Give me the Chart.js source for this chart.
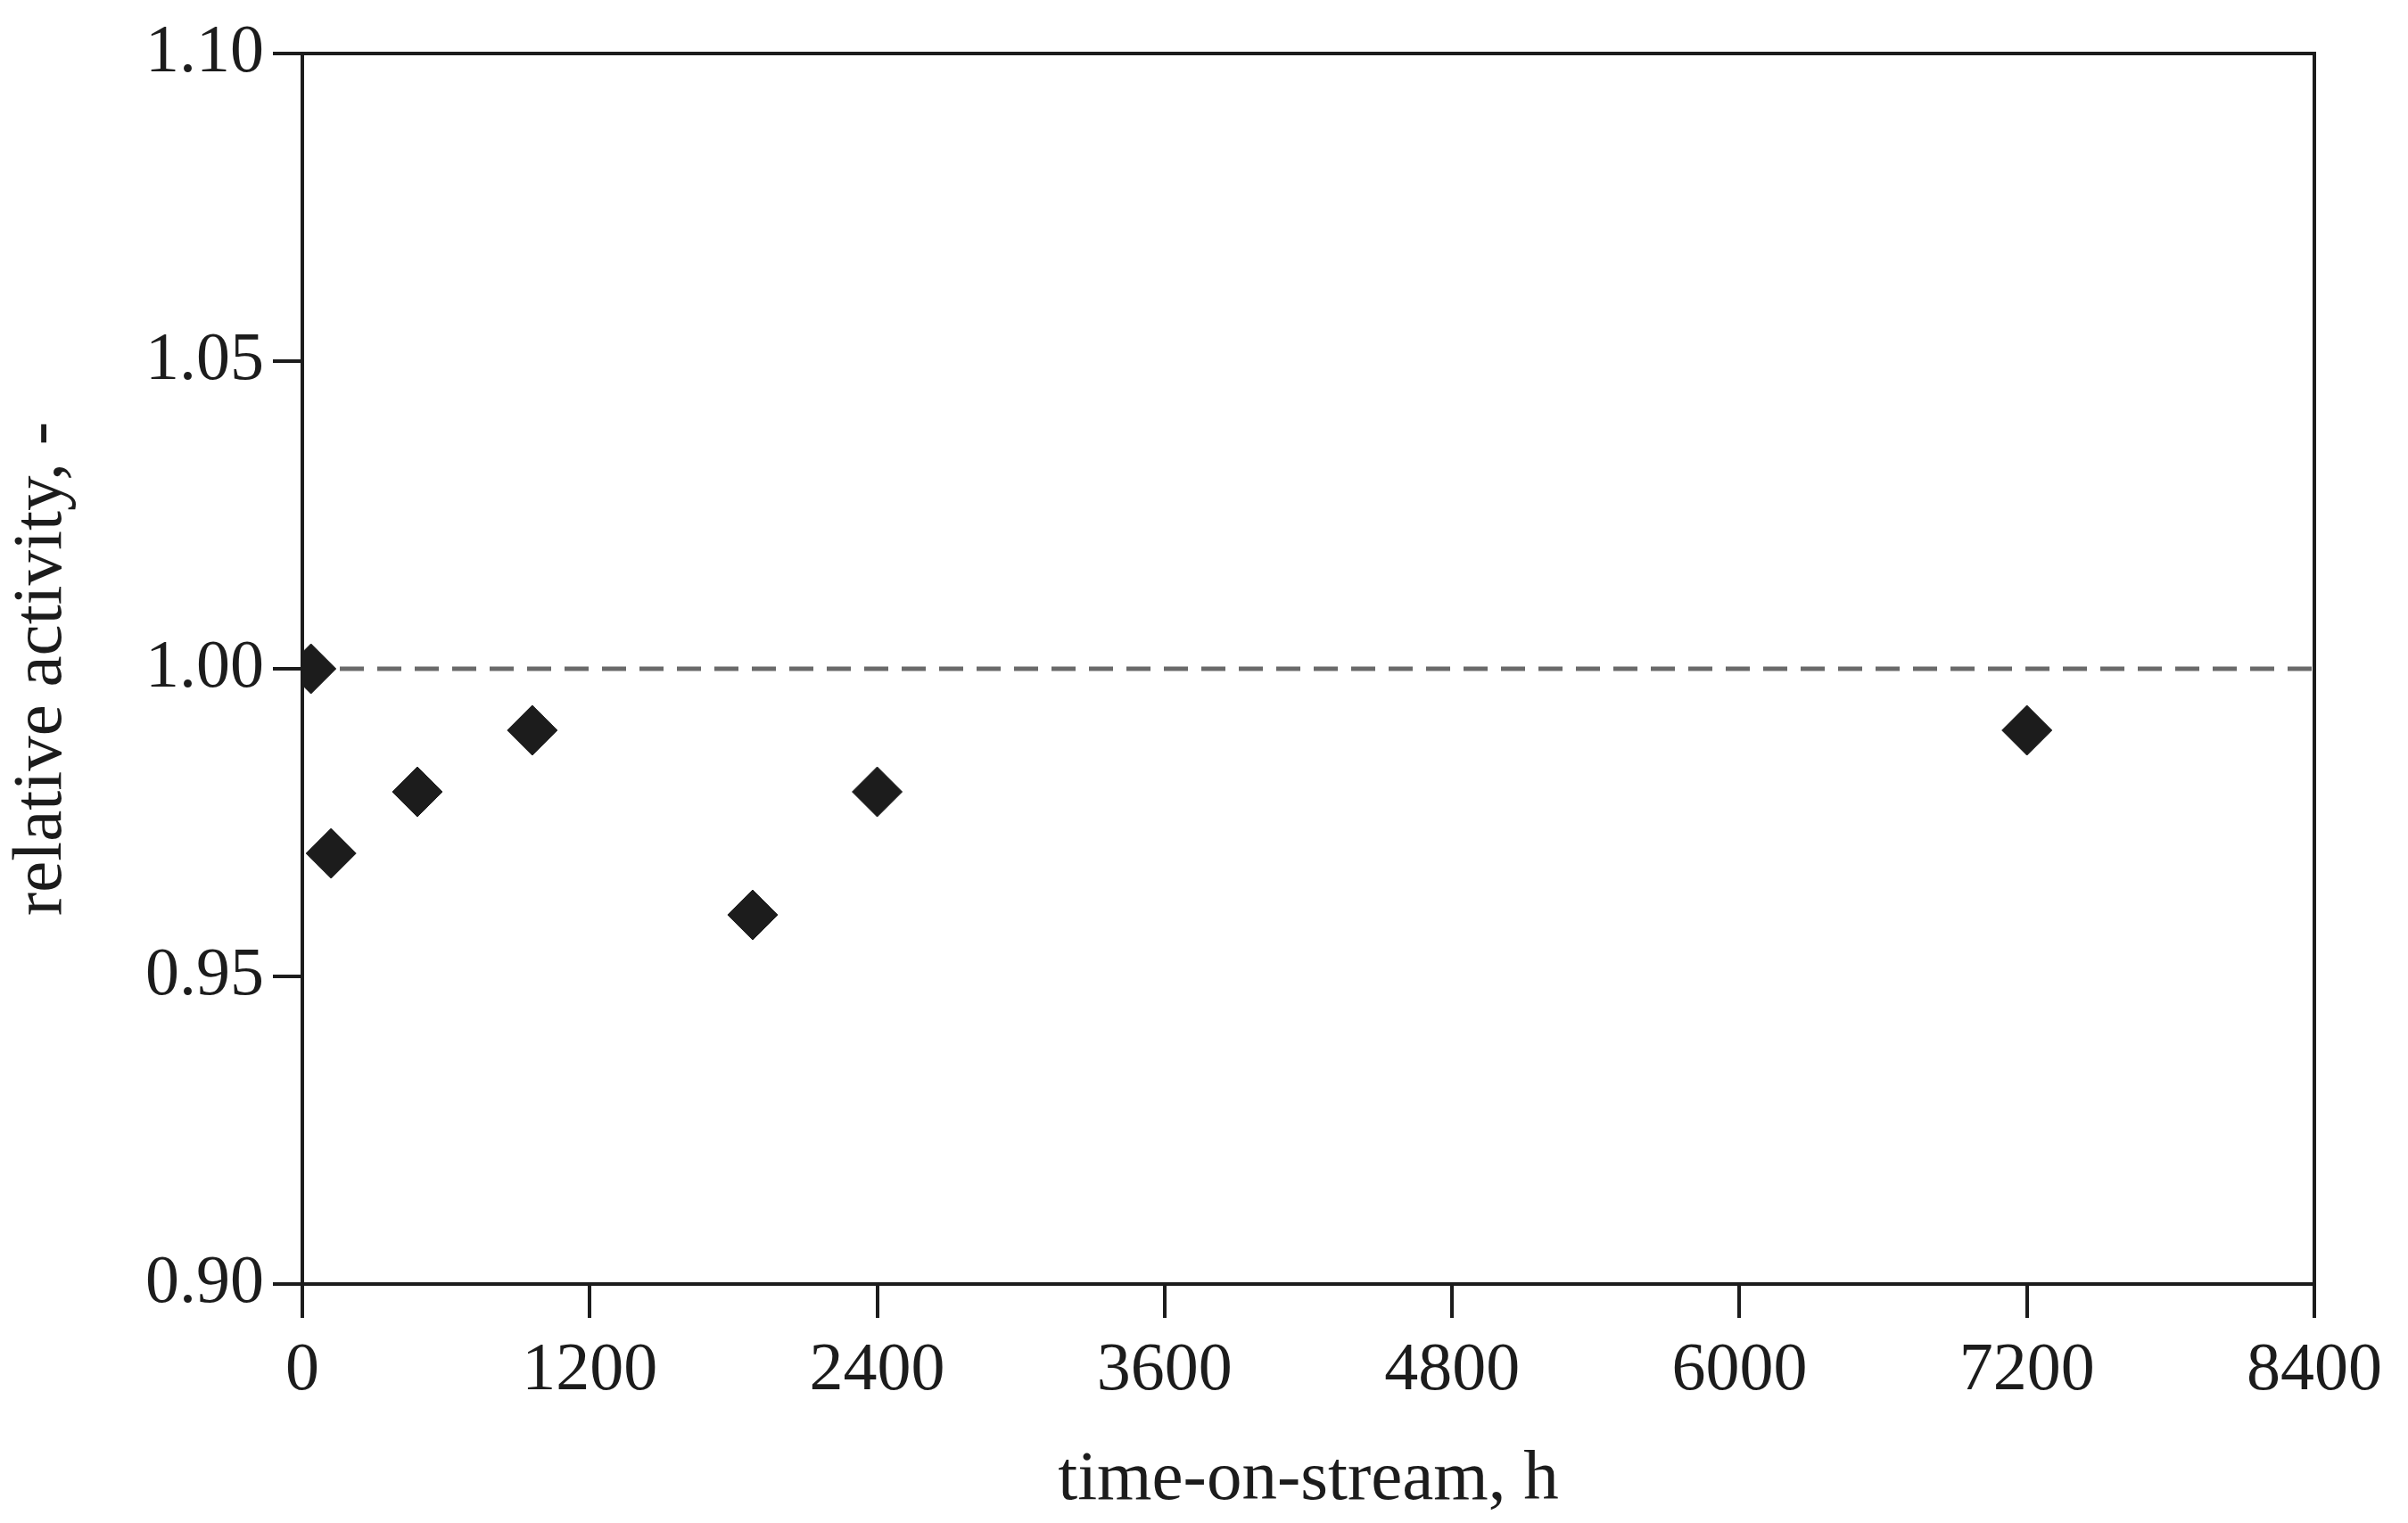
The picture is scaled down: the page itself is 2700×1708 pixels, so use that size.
<!DOCTYPE html>
<html>
<head>
<meta charset="utf-8">
<script src="https://cdn.jsdelivr.net/npm/chart.js@4"></script>
<style>
  html, body { margin: 0; padding: 0; background: #fff; }
  #wrap { width: 2700px; height: 1708px; }
</style>
</head>
<body>
<div id="wrap"><canvas id="grafico"></canvas></div>
<script>
// dados
const horas = [36, 120, 480, 960, 1880, 2400, 7200];
const atividade = [1.00, 0.97, 0.98, 0.99, 0.96, 0.98, 0.99];
const ticks_x = [0, 1200, 2400, 3600, 4800, 6000, 7200, 8400];
const ticks_y = [0.90, 0.95, 1.00, 1.05, 1.10];
const referencia = 1.00;

const fonte = { family: '"Liberation Serif", "DejaVu Serif", serif', size: 76 };
const fonte_titulo = { family: '"Liberation Serif", "DejaVu Serif", serif', size: 79 };
const preto = '#1c1c1c';

// moldura em volta da area do grafico
const moldura = {
    id: 'moldura',
    afterDatasetsDraw(chart){
        const a = chart.chartArea;
        const ctx = chart.ctx;
        ctx.save();
        ctx.strokeStyle = preto;
        ctx.lineWidth = 4;
        ctx.strokeRect(a.left, a.top, a.right - a.left, a.bottom - a.top);
        ctx.restore();
    }
};

new Chart(document.getElementById('grafico'), {
    type: 'scatter',
    data: {
        datasets: [{
            label: 'referencia',
            type: 'line',
            data: [{x: ticks_x[0], y: referencia}, {x: ticks_x[ticks_x.length - 1], y: referencia}],
            borderColor: '#6a6a6a',
            borderWidth: 5,
            borderDash: [27, 15],
            pointRadius: 0,
            order: 2
        }, {
            label: 'atividade relativa',
            data: horas.map((h, i) => ({x: h, y: atividade[i]})),
            pointStyle: 'rectRot',
            pointRadius: 28,
            backgroundColor: preto,
            borderColor: preto,
            borderWidth: 1,
            order: 1
        }]
    },
    options: {
        responsive: true,
        maintainAspectRatio: false,
        animation: false,
        layout: { padding: { top: 60, right: 105, left: 0, bottom: 0 } },
        plugins: {
            legend: { display: false },
            tooltip: { enabled: false }
        },
        scales: {
            x: {
                type: 'linear',
                min: 0,
                max: 8400,
                afterBuildTicks: (eixo) => { eixo.ticks = ticks_x.map(v => ({value: v})); },
                afterFit: (eixo) => { eixo.height = 1708 - 1440; },
                ticks: {
                    font: fonte,
                    color: preto,
                    padding: 14,
                    maxRotation: 0,
                    callback: (v) => String(v)
                },
                grid: {
                    drawOnChartArea: false,
                    drawTicks: true,
                    tickLength: 38,
                    color: preto,
                    lineWidth: 4
                },
                border: { display: true, color: preto, width: 4 },
                title: {
                    display: true,
                    text: 'time-on-stream, h',
                    font: fonte_titulo,
                    color: preto,
                    padding: { top: 14, bottom: 0 }
                }
            },
            y: {
                type: 'linear',
                min: 0.90,
                max: 1.10,
                afterBuildTicks: (eixo) => { eixo.ticks = ticks_y.map(v => ({value: v})); },
                afterFit: (eixo) => { eixo.width = 339; },
                ticks: {
                    font: fonte,
                    color: preto,
                    padding: 10,
                    callback: (v) => Number(v).toFixed(2)
                },
                grid: {
                    drawOnChartArea: false,
                    drawTicks: true,
                    tickLength: 33,
                    color: preto,
                    lineWidth: 4
                },
                border: { display: true, color: preto, width: 4 },
                title: {
                    display: true,
                    text: 'relative activity, -',
                    font: fonte_titulo,
                    color: preto,
                    padding: { top: 0, bottom: 20 }
                }
            }
        }
    },
    plugins: [moldura]
});
</script>
</body>
</html>
